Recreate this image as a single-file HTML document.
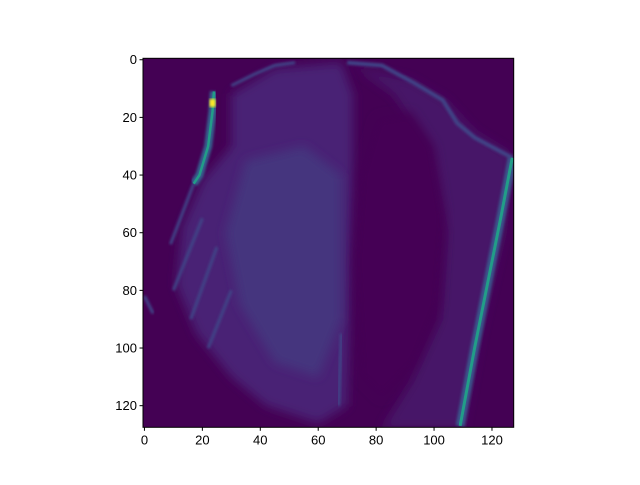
<!DOCTYPE html>
<html><head><meta charset="utf-8"><style>
body{margin:0;background:#fff;width:640px;height:480px;overflow:hidden;font-family:"Liberation Sans",sans-serif}
</style></head><body>
<svg id="chart" width="640" height="480" xmlns="http://www.w3.org/2000/svg">
<defs>
<filter id="blur2"><feGaussianBlur stdDeviation="5"/></filter>
<filter id="blur1"><feGaussianBlur stdDeviation="1.2"/></filter>
<clipPath id="clip"><rect x="143" y="58.3" width="370.7" height="369"/></clipPath>
</defs>
<g id="plot" clip-path="url(#clip)"></g>
<g id="axes"></g>
</svg>
<script>
// data (image pixel coordinates, column,row) and intensities
const xTicks=[0,20,40,60,80,100,120];
const yTicks=[0,20,40,60,80,100,120];
const diffuseRegion=[[30,12],[45,3],[68,1],[72,12],[72,45],[71,90],[70,120],[60,126],[42,120],[30,110],[18,95],[11,78],[13,58],[20,42],[30,30]];
const coreRegion=[[35,35],[55,30],[68,40],[68,90],[60,110],[45,105],[33,85],[28,60]];
const haloRegion=[[72,2],[92,7],[104,14],[114,25],[127,33],[124,60],[116,95],[110,128],[82,128],[92,112],[102,90],[104,60],[98,30],[86,12]];
const darkHole=[[80,20],[92,18],[100,30],[104,55],[102,85],[94,105],[82,118],[74,110],[72,70],[74,40]];
const arcLine=[[70,1],[82,2],[93,8],[103,14],[108,22],[114,27],[127,34]];
const topArc=[[30,9],[38,5],[45,2],[52,1]];
const leftStreak=[[24,11],[23.5,18],[22,30],[19,40],[17,43]];
const rightLine=[[127,34],[123,55],[118,80],[114,100],[109,127]];
const hotSpot=[[23.5,15]];
const faintStreaks=[[[17,43],[9,64]],[[20,55],[10,80]],[[25,65],[16,90]],[[70,30],[70,110]],[[68,95],[67,120]],[[0,82],[3,88]],[[30,80],[22,100]]];
const streakVal=[0.55,0.55];
const levels={diffuse:0.1,core:0.15,halo:0.06,arc:0.2,right:0.55,hot:1.0,faint:0.2};

const X0=143,Y0=58.3,W=370.7,H=369,N=128;
const sx=v=>X0+(v+0.5)/N*W;
const sy=v=>Y0+(v+0.5)/N*H;
function viridis(t){
  const c=[[68,1,84],[72,36,117],[65,68,135],[53,95,141],[42,120,142],[33,145,140],[34,168,132],[53,183,121],[122,209,81],[189,223,38],[253,231,37]];
  const i=Math.min(9,Math.floor(t*10)),f=t*10-i;
  const a=c[i],b=c[i+1];
  return `rgb(${a.map((v,k)=>Math.round(v+(b[k]-v)*f)).join(',')})`;
}
const NS='http://www.w3.org/2000/svg';
const plot=document.getElementById('plot'),axes=document.getElementById('axes');
function mk(tag,attrs,parent){const e=document.createElementNS(NS,tag);for(const k in attrs)e.setAttribute(k,attrs[k]);parent.appendChild(e);return e;}
const pts=a=>a.map(p=>sx(p[0])+','+sy(p[1])).join(' ');

let e=mk('rect',{x:X0,y:Y0,width:W,height:H,fill:viridis(0)},plot);


e=mk('polygon',{points:pts(diffuseRegion),fill:viridis(levels.diffuse),filter:'url(#blur2)'},plot);


e=mk('polygon',{points:pts(coreRegion),fill:viridis(levels.core),filter:'url(#blur2)'},plot);


e=mk('polygon',{points:pts(haloRegion),fill:viridis(levels.halo),filter:'url(#blur2)'},plot);


e=mk('polygon',{points:pts(darkHole),fill:viridis(0),filter:'url(#blur2)'},plot);


faintStreaks.forEach(s=>{
  const l=mk('polyline',{points:pts(s),fill:'none',stroke:viridis(levels.faint),'stroke-width':3,filter:'url(#blur1)'},plot);
  
  
});
e=mk('polyline',{points:pts(arcLine),fill:'none',stroke:viridis(levels.arc),'stroke-width':4,filter:'url(#blur1)'},plot);


e=mk('polyline',{points:pts(topArc),fill:'none',stroke:viridis(levels.arc),'stroke-width':3,filter:'url(#blur1)'},plot);


e=mk('polyline',{points:pts(leftStreak),fill:'none',stroke:viridis(0.3),'stroke-width':8,filter:'url(#blur1)'},plot);


e=mk('polyline',{points:pts(leftStreak),fill:'none',stroke:viridis(streakVal[0]),'stroke-width':2.5},plot);


e=mk('polyline',{points:pts(rightLine),fill:'none',stroke:viridis(0.25),'stroke-width':9,filter:'url(#blur1)'},plot);


e=mk('polyline',{points:pts(rightLine),fill:'none',stroke:viridis(levels.right),'stroke-width':3},plot);


hotSpot.forEach(p=>{
  const r=mk('rect',{x:sx(p[0])-3,y:sy(p[1])-4,width:6,height:8,fill:viridis(levels.hot),filter:'url(#blur1)'},plot);
  
  
});

e=mk('rect',{x:X0,y:Y0,width:W,height:H,fill:'none',stroke:'#000','stroke-width':1},axes);


xTicks.forEach(t=>{
  const x=sx(t);
  mk('line',{x1:x,x2:x,y1:Y0+H,y2:Y0+H+3.5,stroke:'#000'},axes);
  const tx=mk('text',{x:x,y:Y0+H+17,'text-anchor':'middle','font-size':'13px',fill:'#000'},axes);
  tx.textContent=t;
  
  
});
yTicks.forEach(t=>{
  const y=sy(t);
  mk('line',{x1:X0,x2:X0-3.5,y1:y,y2:y,stroke:'#000'},axes);
  const tx=mk('text',{x:X0-6,y:y+4.5,'text-anchor':'end','font-size':'13px',fill:'#000'},axes);
  tx.textContent=t;
  
  
});
</script>
</body></html>
